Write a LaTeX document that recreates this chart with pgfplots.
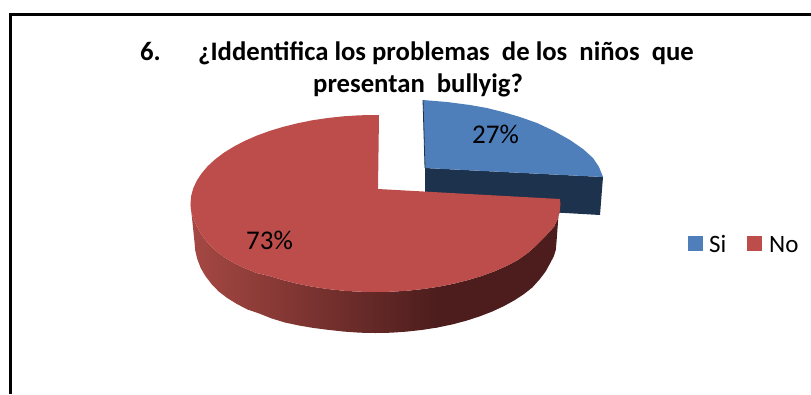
\documentclass[border=0pt]{standalone}
\usepackage{pgfplots}
\pgfplotsset{compat=1.18}
\usepackage{fontspec}
\setmainfont{Carlito}
\definecolor{sired}{HTML}{BC4D4A}
\definecolor{siblue}{HTML}{4E7FBB}
\definecolor{darkblue}{HTML}{1D324D}
\definecolor{sideL}{HTML}{A64843}
\definecolor{sideR}{HTML}{4C1D1C}
\begin{document}
\begin{tikzpicture}
\path[use as bounding box] (0,0) rectangle (811pt,394pt);
\begin{axis}[
  scale only axis, width=811pt, height=394pt,
  xmin=0, xmax=811, ymin=0, ymax=394, y dir=reverse,
  hide axis, clip=false, no marks]
% frame
\addplot[black, line width=2.5pt] coordinates {(10.5,394) (10.5,14.5) (811,14.5)};
% blue slice
\addplot[draw=none, fill=darkblue] coordinates {(425,168) (603,177) (600,215) (425,205)} -- cycle;
\addplot[draw=none, fill=siblue] coordinates {(423,100) (447,102) (470,105) (487,108) (503,112) (520,117) (537,123) (554,131) (570,140) (583,149) (593,158) (599,167) (603,177) (425,168)} -- cycle;
\addplot[darkblue, line width=0.8pt] coordinates {(423,100) (425,168)};
% red side: lit part
\addplot[draw=none, left color=sideL, right color=sideR] coordinates {
(438.8,286.7) (423.4,289) (407.6,290.7) (391.6,291.7) (375.5,292) (359.4,291.7) (343.4,290.7) (327.6,289) (312.2,286.7) (297.3,283.7) (283,280.1) (269.4,276) (256.6,273) (244.7,268.2) (233.8,263) (223.9,257) (215.3,250.5) (207.8,243) (201.7,235) (196.8,226.4) (193.3,218.9) (191.2,211.2) (190.5,203.5)
(194.5,242) (195.2,250.5) (197.3,259) (200.7,268) (205.4,276) (211.5,284) (218.7,291.5) (227.2,298) (236.9,304) (247.5,309.5) (259.2,313.5) (271.7,318.5) (285,322.5) (299,325.5) (313.6,328) (328.7,329.9) (344.1,331.6) (359.7,332.7) (375.5,333) (391.3,332.7) (406.9,331.6) (422.3,329.9) (437.4,327.5)
} -- cycle;
% red side: dark part
\addplot[draw=none, fill=sideR] coordinates {
(559.7,199) (560.5,203.5) (559.8,211.2) (557.7,218.9) (554.2,226.4) (549.3,232) (543.2,238.5) (535.7,246) (527.1,253.5) (517.2,260.4) (506.3,266.1) (494.4,271.3) (481.6,276) (468,280.1) (453.7,283.7) (438.8,286.7) (436.5,287)
(435.8,327.7) (437.4,327.5) (452,324.5) (466,320.8) (479.3,316.5) (491.8,311.7) (503.5,306.3) (514.1,300.5) (523.8,294.2) (532.3,287.5) (539.5,279.5) (545.6,271.5) (550.3,263) (553.7,256.5) (555.8,249.9) (556.5,242)
} -- cycle;
% red top
\addplot[draw=none, fill=sired] coordinates {
(378,189) (559.7,199) (560.5,203.5) (559.8,211.2) (557.7,218.9) (554.2,226.4) (549.3,232) (543.2,238.5) (535.7,246) (527.1,253.5) (517.2,260.4) (506.3,266.1) (494.4,271.3) (481.6,276) (468,280.1) (453.7,283.7) (438.8,286.7) (423.4,289) (407.6,290.7) (391.6,291.7) (375.5,292) (359.4,291.7) (343.4,290.7) (327.6,289) (312.2,286.7) (297.3,283.7) (283,280.1) (269.4,276) (256.6,273) (244.7,268.2) (233.8,263) (223.9,257) (215.3,250.5) (207.8,243) (201.7,235) (196.8,226.4) (193.3,218.9) (191.2,211.2) (190.5,203.5) (191.2,195.8) (193.3,188.1) (196.8,180.6) (201.7,173.2) (207.8,166.1) (215.3,159.2) (223.9,152.7) (233.8,146.6) (244.7,140.9) (256.6,135.7) (269.4,131) (283,126.9) (297.3,123.3) (312.2,120.3) (327.6,118) (343.4,116.3) (359.4,115.3) (375.5,115) (379,115)
} -- cycle;
% legend keys
\addplot[draw=none, fill=siblue] coordinates {(688,236) (703,236) (703,251) (688,251)} -- cycle;
\addplot[draw=none, fill=sired] coordinates {(747,236) (762,236) (762,251) (747,251)} -- cycle;
% texts
\node[anchor=base west, inner sep=0pt, font=\fontsize{26.7}{27}\selectfont\bfseries] at (axis cs:140,60.5) {6.};
\node[anchor=base west, inner sep=0pt, font=\fontsize{26.7}{27}\selectfont\bfseries] at (axis cs:198,60.5) {¿Iddentifica los problemas\ \ de los\ \ niños\ \ que};
\node[anchor=base west, inner sep=0pt, font=\fontsize{26.7}{27}\selectfont\bfseries] at (axis cs:313,92.5) {presentan\ \ bullyig?};
\node[anchor=center, inner sep=0pt, font=\fontsize{27}{27}\selectfont] at (axis cs:495.5,134) {27\%};
\node[anchor=center, inner sep=0pt, font=\fontsize{27}{27}\selectfont] at (axis cs:269.5,240) {73\%};
\node[anchor=base west, inner sep=0pt, font=\fontsize{25}{25}\selectfont] at (axis cs:709,252) {Si};
\node[anchor=base west, inner sep=0pt, font=\fontsize{25}{25}\selectfont] at (axis cs:769,252) {No};
\end{axis}
\end{tikzpicture}
\end{document}
